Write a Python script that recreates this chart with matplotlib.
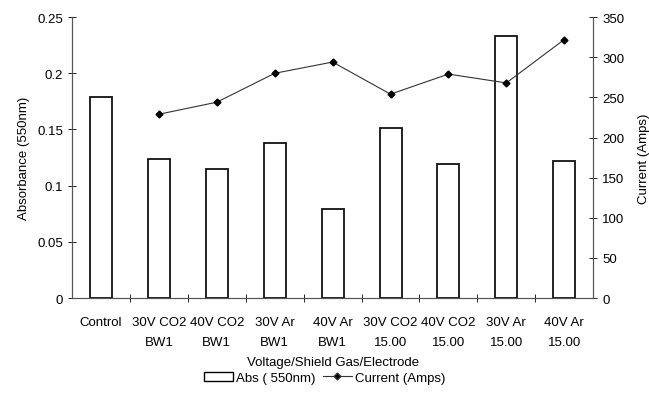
import matplotlib.pyplot as plt
import numpy as np
from matplotlib.lines import Line2D
from matplotlib.patches import Patch

plt.rcParams['font.family'] = ['Liberation Sans', 'DejaVu Sans']

categories = ["Control", "30V CO2\nBW1", "40V CO2\nBW1", "30V Ar\nBW1", "40V Ar\nBW1",
              "30V CO2\n15.00", "40V CO2\n15.00", "30V Ar\n15.00", "40V Ar\n15.00"]
absorbance = [0.179, 0.124, 0.115, 0.138, 0.079, 0.151, 0.119, 0.233, 0.122]
# no current value for the control
current_x = [1, 2, 3, 4, 5, 6, 7, 8]
current = [229, 244, 280, 294, 254, 279, 268, 322]

fig = plt.figure(figsize=(6.49, 4.02), dpi=100)
ax = fig.add_axes([0.111, 0.256, 0.803, 0.699])
ax2 = ax.twinx()

x = np.arange(len(categories))
ax.bar(x, absorbance, width=0.38, facecolor='white', edgecolor='#111111', linewidth=1.3, zorder=2)

ax2.plot(current_x, current, color='#333333', linewidth=0.8, marker='D', markersize=3.5,
         markerfacecolor='black', markeredgecolor='black')

ax.set_xlim(-0.5, len(categories) - 0.5)
ax.set_ylim(0, 0.25)
ax2.set_ylim(0, 350)
ax.set_yticks([0, 0.05, 0.1, 0.15, 0.2, 0.25])
ax.set_yticklabels(['0', '0.05', '0.1', '0.15', '0.2', '0.25'])
ax2.set_yticks(range(0, 351, 50))

ax.set_xticks(x)
ax.set_xticklabels(categories, fontsize=9.5, linespacing=1.85)
ax.set_xticks(np.arange(0.5, len(categories) - 0.5), minor=True)
ax.tick_params(axis='x', which='major', length=0, pad=13)
ax.tick_params(axis='x', which='minor', direction='inout', length=6, width=0.6)
ax.tick_params(axis='y', direction='inout', length=6, width=0.6, labelsize=9.5)
ax2.tick_params(axis='y', direction='inout', length=6, width=0.6, labelsize=9.5)

for a in (ax, ax2):
    a.spines['top'].set_visible(False)
    for s in ('left', 'right', 'bottom'):
        a.spines[s].set_linewidth(0.8)
        a.spines[s].set_color('#555555')

ax.set_ylabel("Absorbance (550nm)", fontsize=9.5, labelpad=5)
ax2.set_ylabel("Current (Amps)", fontsize=9.5, labelpad=10)
ax.set_xlabel("Voltage/Shield Gas/Electrode", fontsize=9.5, labelpad=6)

handles = [Patch(facecolor='white', edgecolor='black', linewidth=1.0),
           Line2D([0], [0], color='#333333', linewidth=0.8, marker='D', markersize=3.5,
                  markerfacecolor='black')]
fig.legend(handles, ["Abs ( 550nm)", "Current (Amps)"], loc='center', bbox_to_anchor=(0.5, 0.058),
           ncol=2, frameon=False, fontsize=9.5, handlelength=2.2, handletextpad=0.2, columnspacing=0.6)

fig.savefig("out.png", dpi=100)
